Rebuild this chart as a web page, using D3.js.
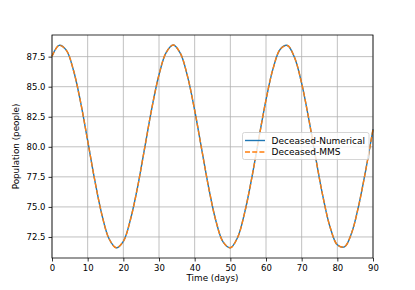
<!DOCTYPE html>
<html>
<head>
<meta charset="utf-8">
<script src="https://cdn.jsdelivr.net/npm/d3@7"></script>
<style>
  body { margin: 0; background: #fff; }
  text { font-family: "DejaVu Sans", sans-serif; }
</style>
</head>
<body>
<script>
// values, every 2 days
const days = [0, 2, 4, 6, 8, 10, 12, 14, 16, 18, 20, 22, 24, 26, 28, 30, 32, 34, 36, 38,
  40, 42, 44, 46, 48, 50, 52, 54, 56, 58, 60, 62, 64, 66, 68, 70, 72, 74, 76, 78,
  80, 82, 84, 86, 88, 90]
const numerical = [87.53, 88.44, 88.04, 86.39, 83.74, 80.51, 77.20, 74.34, 72.35, 71.60,
  72.14, 73.95, 76.65, 79.93, 83.22, 85.99, 87.84, 88.47, 87.77, 85.86,
  83.04, 79.74, 76.49, 73.79, 72.07, 71.60, 72.43, 74.50, 77.39, 80.70,
  83.91, 86.52, 88.12, 88.43, 87.43, 85.28, 82.30, 78.97, 75.81, 73.29,
  71.85, 71.68, 72.83, 75.13, 78.12, 81.46]
const mms = numerical.slice()
const xTicks = [0, 10, 20, 30, 40, 50, 60, 70, 80, 90]
const yTicks = [72.5, 75.0, 77.5, 80.0, 82.5, 85.0, 87.5]
const seriesNames = ['Deceased-Numerical', 'Deceased-MMS']

const margin = {top: 35, right: 42, bottom: 32, left: 52}
const width = 415 - margin.left - margin.right,
  height = 290 - margin.top - margin.bottom

const svg = d3.select('body').append('svg')
  .attr('width', 415)
  .attr('height', 290)

const scaleX = d3.scaleLinear().domain([0, 90]).range([0, width])
const scaleY = d3.scaleLinear().domain([70.75, 89.3]).range([height, 0])

const g = svg.append('g').attr('transform', `translate(${margin.left},${margin.top})`)

// grid
g.append('g').selectAll('line').data(xTicks).enter().append('line')
  .attr('x1', d => scaleX(d)).attr('x2', d => scaleX(d))
  .attr('y1', 0).attr('y2', height)
  .attr('stroke', '#b0b0b0').attr('stroke-width', 0.8)
g.append('g').selectAll('line').data(yTicks).enter().append('line')
  .attr('y1', d => scaleY(d)).attr('y2', d => scaleY(d))
  .attr('x1', 0).attr('x2', width)
  .attr('stroke', '#b0b0b0').attr('stroke-width', 0.8)

const line = d3.line()
  .x((d, i) => scaleX(days[i]))
  .y(d => scaleY(d))
  .curve(d3.curveCatmullRom)

g.append('path').datum(numerical)
  .attr('d', line).attr('fill', 'none')
  .attr('stroke', '#1f77b4').attr('stroke-width', 1.4)
g.append('path').datum(mms)
  .attr('d', line).attr('fill', 'none')
  .attr('stroke', '#ff7f0e').attr('stroke-width', 1.4)
  .attr('stroke-dasharray', '5,2.2')

// frame
g.append('rect').attr('width', width).attr('height', height)
  .attr('fill', 'none').attr('stroke', '#000').attr('stroke-width', 0.8)

const axisX = d3.axisBottom(scaleX).tickValues(xTicks).tickSize(3.5).tickPadding(3)
const axisY = d3.axisLeft(scaleY).tickValues(yTicks).tickFormat(d3.format('.1f')).tickSize(3.5).tickPadding(3)

const ax = g.append('g').attr('transform', `translate(0,${height})`).call(axisX)
const ay = g.append('g').call(axisY)
;[ax, ay].forEach(a => {
  a.select('.domain').remove()
  a.selectAll('line').attr('stroke', '#000').attr('stroke-width', 0.8)
  a.selectAll('text').attr('font-size', 8.5).attr('fill', '#000')
    .attr('font-family', 'DejaVu Sans')
})

svg.append('text')
  .attr('x', margin.left + width / 2).attr('y', 281)
  .attr('text-anchor', 'middle').attr('font-size', 8.8)
  .text('Time (days)')
svg.append('text')
  .attr('transform', `translate(19,${margin.top + height / 2}) rotate(-90)`)
  .attr('text-anchor', 'middle').attr('font-size', 8.8)
  .text('Population (people)')

// legend
const leg = g.append('g').attr('transform', `translate(${width - 130.5},${97.5})`)
leg.append('rect').attr('width', 126.5).attr('height', 27).attr('rx', 2)
  .attr('fill', 'rgba(255,255,255,0.8)').attr('stroke', '#cccccc').attr('stroke-width', 0.8)
const colors = ['#1f77b4', '#ff7f0e']
seriesNames.forEach((name, i) => {
  const yy = 8 + i * 11.5
  leg.append('line').attr('x1', 2.5).attr('x2', 22.5).attr('y1', yy).attr('y2', yy)
    .attr('stroke', colors[i]).attr('stroke-width', 1.4)
    .attr('stroke-dasharray', i ? '5,2.2' : null)
  leg.append('text').attr('x', 29).attr('y', yy + 3.2)
    .attr('font-size', 9).text(name)
})
</script>
</body>
</html>
